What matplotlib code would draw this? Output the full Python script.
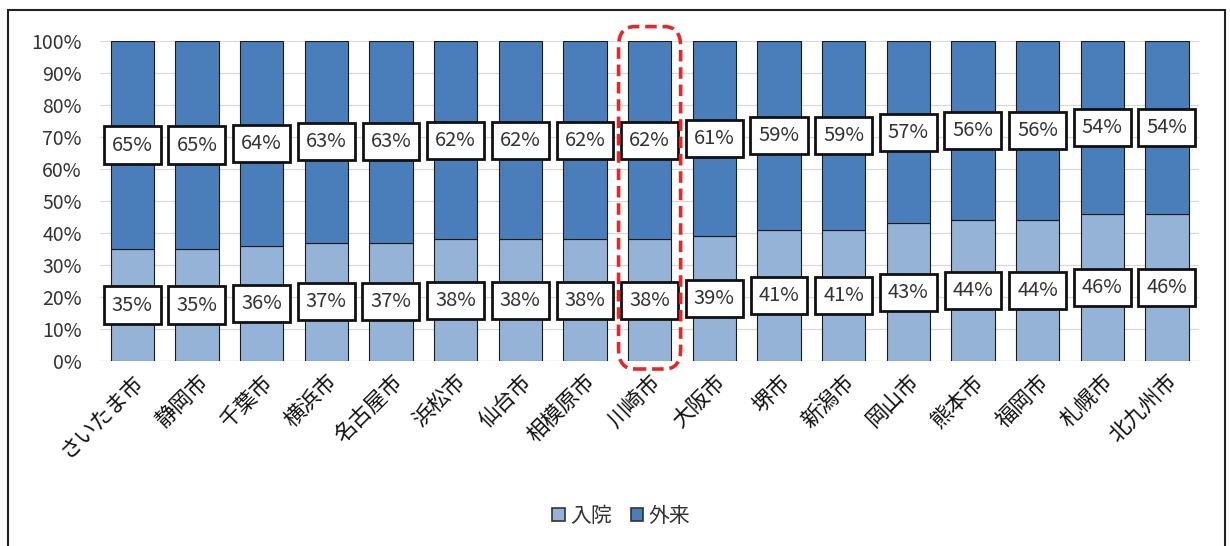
import matplotlib
matplotlib.use('Agg')
import matplotlib.pyplot as plt
from matplotlib.patches import FancyBboxPatch, Rectangle
import numpy as np

plt.rcParams['font.family'] = ['Noto Sans CJK JP', 'DejaVu Sans']

cities = ['さいたま市', '静岡市', '千葉市', '横浜市', '名古屋市', '浜松市', '仙台市', '相模原市',
          '川崎市', '大阪市', '堺市', '新潟市', '岡山市', '熊本市', '福岡市', '札幌市', '北九州市']
inpatient = [35, 35, 36, 37, 37, 38, 38, 38, 38, 39, 41, 41, 43, 44, 44, 46, 46]
outpatient = [65, 65, 64, 63, 63, 62, 62, 62, 62, 61, 59, 59, 57, 56, 56, 54, 54]
highlight = '川崎市'

c_in = '#95b3d7'
c_out = '#4a7ebb'

fig = plt.figure(figsize=(12.3, 5.46), dpi=100)
ax = fig.add_axes([0.0813, 0.3388, 0.8937, 0.5861])

x = np.arange(len(cities))
tot = np.array(inpatient) + np.array(outpatient)
p_in = np.array(inpatient) / tot
p_out = np.array(outpatient) / tot

ax.bar(x, p_in, width=0.67, color=c_in, edgecolor='#1a1a1a', linewidth=0.8, label='入院', zorder=2)
ax.bar(x, p_out, width=0.67, bottom=p_in, color=c_out, edgecolor='#1a1a1a', linewidth=0.8,
       label='外来', zorder=2)

box = dict(boxstyle='square,pad=0.4', fc='white', ec='#111111', lw=2.0)
for i in range(len(cities)):
    ax.text(x[i], p_in[i] / 2, f'{inpatient[i]}%', ha='center', va='center',
            fontsize=14.5, color='#333333', bbox=box, zorder=4)
    ax.text(x[i], p_in[i] + p_out[i] / 2, f'{outpatient[i]}%', ha='center', va='center',
            fontsize=14.5, color='#333333', bbox=box, zorder=4)

ax.set_xlim(-0.5, len(cities) - 0.5)
ax.set_ylim(0, 1)
ax.set_yticks(np.arange(0, 1.01, 0.1))
ax.set_yticklabels([f'{v}%' for v in range(0, 101, 10)], fontsize=14, color='#333333')
ax.set_xticks(x)
ax.set_xticklabels(cities, rotation=45, ha='right', va='top', rotation_mode='anchor',
                   fontsize=15.5, color='#111111')
ax.tick_params(axis='y', length=0, pad=13)
ax.tick_params(axis='x', length=0, pad=7)
ax.grid(axis='y', color='#d9d9d9', linewidth=0.9, zorder=0)
for s in ax.spines.values():
    s.set_visible(False)
ax.axhline(0, color='#d9d9d9', linewidth=0.9, zorder=1)

# dashed frame around the highlighted city
k = cities.index(highlight)
hl = FancyBboxPatch((k - 0.44, -0.015), 0.88, 1.05,
                    boxstyle='round,pad=0.04,rounding_size=0.25',
                    mutation_aspect=0.25, fill=False, ec='#e8262a', lw=2.6,
                    ls=(0, (3.2, 1.6)), clip_on=False, zorder=5)
ax.add_patch(hl)

leg = fig.legend(loc='center', bbox_to_anchor=(0.505, 0.055), ncol=2, frameon=False,
                 fontsize=15, handlelength=0.6, handleheight=0.6, handletextpad=0.25,
                 columnspacing=0.9)
for t in leg.get_texts():
    t.set_color('#333333')
for h in leg.legend_handles:
    h.set_edgecolor('#333333')
    h.set_linewidth(1.2)

fig.patches.append(Rectangle((8 / 1230, -0.01), 1217 / 1230, (546 - 10) / 546 + 0.01,
                             transform=fig.transFigure, fill=False, ec='#222222', lw=1.5))

fig.savefig('out.png', dpi=100)
